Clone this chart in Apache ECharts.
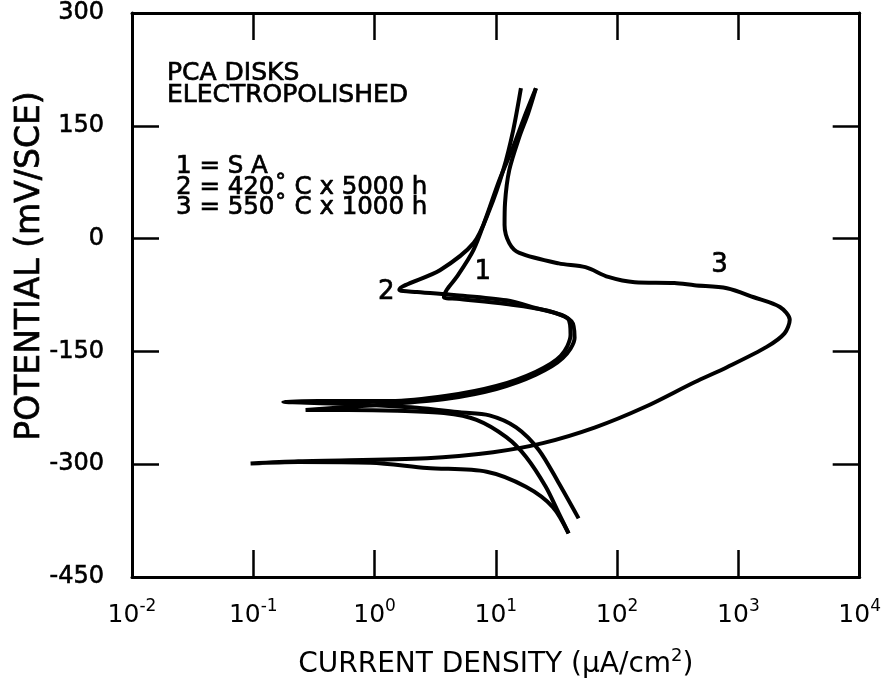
<!DOCTYPE html>
<html>
<head>
<meta charset="utf-8">
<script src="https://cdn.jsdelivr.net/npm/echarts@6/dist/echarts.min.js"></script>
<style>
  html, body { margin: 0; padding: 0; background: #fff; }
  #chart { width: 884px; height: 689px; }
</style>
</head>
<body>
<div id="chart"></div>
<script>
// Anodic polarization of PCA disks (electropolished).
// Current density in µA/cm², potential in mV vs SCE.

// 1 = solution annealed
const saCurrent   = [39.8, 33, 25.8, 17.7, 12.2, 6.93, 3.73, 1.54, 0.60, 0.27, 0.60, 1.35, 3.94, 10.1, 21.4, 35.6, 44.6, 42.1, 26.8, 12.2, 4.76, 3.73, 3.94, 4.76, 6.55, 8.35, 10.7, 13.9, 17.7, 21.4];
const saPotential = [-392, -365, -330, -290, -264, -241, -232, -229, -228, -228, -224, -220, -213, -200, -181, -159, -132, -110, -96, -87, -80, -78, -68, -51, -15, 29, 78, 122, 167, 200];

// 2 = 420 °C x 5000 h
const aged420Current   = [48.1, 33, 22.6, 14.7, 8.85, 5.04, 2.24, 0.60, 0.177, 0.343, 1.35, 3.94, 10.1, 21.4, 34.3, 41.3, 39.1, 20.8, 12.2, 4.5, 2.24, 1.6, 3.46, 6.55, 8.85, 11.5, 13.9, 16.1];
const aged420Potential = [-372, -325, -281, -251, -235, -231, -225, -220, -217, -216, -216, -209, -196, -177, -156, -128, -106, -92, -82, -75, -71, -68, -42, -6, 38, 91, 144, 200];

// 3 = 550 °C x 1000 h
const aged550Current   = [39.8, 29.5, 17.7, 8.4, 2.7, 0.93, 0.235, 0.095, 0.235, 2.71, 9.5, 24.4, 66, 169, 434, 805, 1710, 2400, 2650, 2200, 1340, 805, 434, 297, 140, 84.5, 54.8, 33, 15.6, 12.9, 11.8, 11.9, 12.9, 15.6, 18.5, 21.4];
const aged550Potential = [-392, -357, -330, -310, -305, -298, -297, -299, -296, -292, -284, -272, -251, -224, -191, -171, -144, -126, -108, -91, -78, -66, -62, -59, -58, -51, -38, -33, -19, -6, 18, 47, 91, 135, 167, 200];

// axis ticks
const xTickExponents = [-2, -1, 0, 1, 2, 3, 4];
const yTicks = [-450, -300, -150, 0, 150, 300];

// annotation text
const headerLines = ['PCA DISKS', 'ELECTROPOLISHED'];
const keyLines = ['1 = S A', '2 = 420\u02DA C x 5000 h', '3 = 550\u02DA C x 1000 h'];
const curveTags = [
  { text: '1', current: 7.8, potential: -45 },
  { text: '2', current: 1.25, potential: -71 },
  { text: '3', current: 700, potential: -36 }
];

const FONT = 'DejaVu Sans';
const INK = '#000';

function pairs(xs, ys) { return xs.map((x, i) => [x, ys[i]]); }

const chart = echarts.init(document.getElementById('chart'), null, { renderer: 'canvas' });

function tickStyle() { return { show: true, inside: true, length: 27, lineStyle: { color: INK, width: 2.5 } }; }
function frameLine() { return { show: true, onZero: false, lineStyle: { color: INK, width: 3 } }; }

function xAxisOf(position, label, extra) {
  return Object.assign({
    type: 'log', logBase: 10, position: position,
    min: Math.pow(10, xTickExponents[0]),
    max: Math.pow(10, xTickExponents[xTickExponents.length - 1]),
    splitNumber: xTickExponents.length - 1,
    axisLine: frameLine(), axisTick: tickStyle(), axisLabel: label,
    splitLine: { show: false }, minorTick: { show: false }
  }, extra || {});
}
function yAxisOf(position, label) {
  return {
    type: 'value', position: position,
    min: yTicks[0], max: yTicks[yTicks.length - 1], interval: 150,
    axisLine: frameLine(), axisTick: tickStyle(), axisLabel: label,
    splitLine: { show: false }
  };
}

function curve(name, xs, ys, tag) {
  return {
    name: name, type: 'line', xAxisIndex: 0, yAxisIndex: 0,
    data: pairs(xs, ys),
    symbol: 'none', smooth: 0.3,
    lineStyle: { color: INK, width: 4 },
    silent: true, animation: false,
    markPoint: {
      symbol: 'circle', symbolSize: 1,
      itemStyle: { color: 'rgba(0,0,0,0)' },
      label: { show: true, position: 'inside', formatter: tag.text, color: INK, fontFamily: FONT, fontSize: 26, textBorderColor: INK, textBorderWidth: 0.7 },
      data: [{ coord: [tag.current, tag.potential] }]
    }
  };
}

// lettering drawn with a thin outline in the same colour for a heavier weight
function textItem(t, x, y, size, align, rotation) {
  return {
    type: 'text', x: x, y: y, rotation: rotation || 0,
    style: { text: t, fill: INK, stroke: INK, lineWidth: 0.7, font: size + 'px "DejaVu Sans"', textAlign: align, textVerticalAlign: 'middle' }
  };
}

const headerTop = 73.5, headerStep = 22;
const keyTop = 167, keyStep = 20.5;

chart.setOption({
  animation: false,
  backgroundColor: '#fff',
  grid: { left: 132, right: 17, top: 13, bottom: 112, containLabel: false },
  xAxis: [
    xAxisOf('bottom', {
      margin: 21,
      formatter: v => '{b|10}{s|' + Math.round(Math.log10(v)) + '}',
      rich: {
        b: { fontFamily: FONT, fontSize: 25, color: INK, lineHeight: 34 },
        s: { fontFamily: FONT, fontSize: 17, color: INK, lineHeight: 20, verticalAlign: 'top' }
      }
    }, {
      name: '{a|CURRENT DENSITY (\u00B5A/cm}{s|2}{a|)}',
      nameLocation: 'middle', nameGap: 70,
      nameTextStyle: {
        rich: {
          a: { fontFamily: FONT, fontSize: 28, color: INK, lineHeight: 36 },
          s: { fontFamily: FONT, fontSize: 18, color: INK, lineHeight: 22, verticalAlign: 'top' }
        }
      }
    }),
    xAxisOf('top', { show: false })
  ],
  yAxis: [
    yAxisOf('left', { margin: 28, color: INK, fontFamily: FONT, fontSize: 24, textBorderColor: INK, textBorderWidth: 0.6 }),
    yAxisOf('right', { show: false })
  ],
  graphic: [textItem('POTENTIAL (mV/SCE)', 30, 266, 33, 'center', Math.PI / 2)]
    .concat(headerLines.map((t, i) => textItem(t, 167, headerTop + i * headerStep, 25, 'left')))
    .concat(keyLines.map((t, i) => textItem(t, 176, keyTop + i * keyStep, 24.5, 'left'))),
  series: [
    curve('1 = S A', saCurrent, saPotential, curveTags[0]),
    curve('2 = 420 C x 5000 h', aged420Current, aged420Potential, curveTags[1]),
    curve('3 = 550 C x 1000 h', aged550Current, aged550Potential, curveTags[2])
  ]
});
</script>
</body>
</html>
